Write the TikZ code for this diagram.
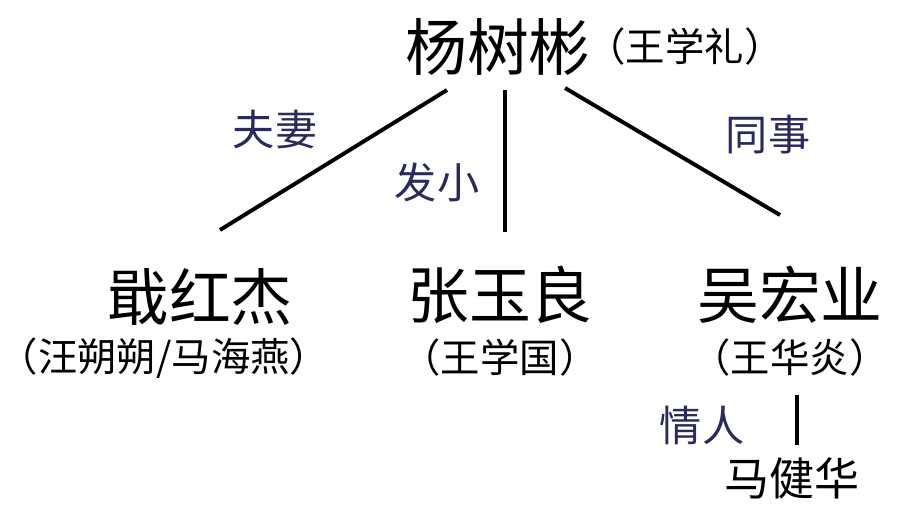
\documentclass[tikz,border=0pt]{standalone}
\usepackage{fontspec}
\setmainfont{Noto Sans CJK SC}
\usetikzlibrary{positioning}
\definecolor{labelblue}{HTML}{2B2A5C}
\tikzset{
  big/.style={font=\fontsize{44}{50}\selectfont, inner sep=0pt},
  alias/.style={font=\fontsize{28}{32}\selectfont, inner sep=0pt},
  rel/.style={font=\fontsize{30}{34}\selectfont, text=labelblue, inner sep=0pt},
  link/.style={line width=2.8pt}
}
\begin{document}
\begin{tikzpicture}[x=0.025cm, y=-0.025cm]
        \useasboundingbox (0,0) rectangle (900,506);
        % top person
        \node[big] (yang) at (498,47) {杨树彬};
        \node[alias] (yangA) at (685,47) {（王学礼）};
        % second row
        \node[big] (zhan) at (200,297) {戢红杰};
        \node[alias] (zhanA) at (164,358) {（汪朔朔/马海燕）};
        \node[big] (zhang) at (500,295) {张玉良};
        \node[alias] (zhangA) at (500,358) {（王学国）};
        \node[big] (wu) at (790,295) {吴宏业};
        \node[alias] (wuA) at (790,358) {（王华炎）};
        \node[big, font=\fontsize{32}{36}\selectfont] (ma) at (792,478) {马健华};
        % relation labels
        \node[rel] (fuqi) at (275,130) {夫妻};
        \node[rel] (faxiao) at (437,182) {发小};
        \node[rel] (tongshi) at (768,135) {同事};
        \node[rel] (qingren) at (702,425) {情人};
        % line ends
        \coordinate (y1) at (447,90);
        \coordinate (y2) at (505,90);
        \coordinate (y3) at (565,88);
        \coordinate (z1) at (220,230);
        \coordinate (z2) at (505,232);
        \coordinate (z3) at (780,215);
        \coordinate (w1) at (797,395);
        \coordinate (w2) at (797,445);
        \draw[link] (y1) -- (z1);
        \draw[link] (y2) -- (z2);
        \draw[link] (y3) -- (z3);
        \draw[link] (w1) -- (w2);
\end{tikzpicture}
\end{document}
